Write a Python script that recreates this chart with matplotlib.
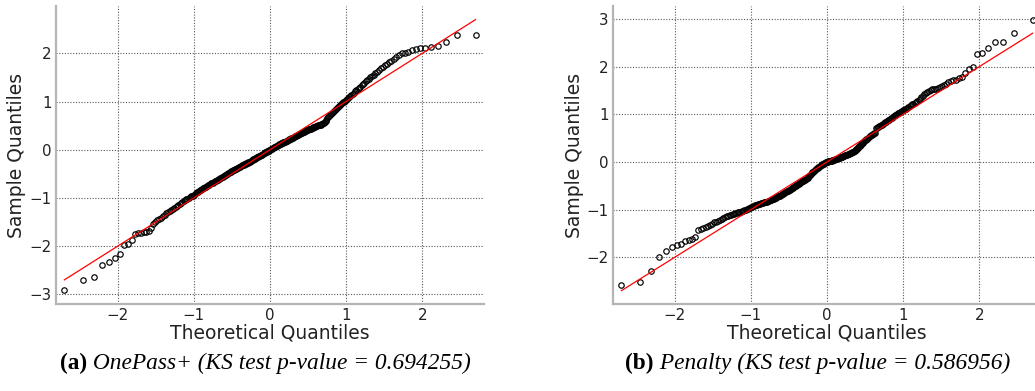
from statistics import NormalDist

import matplotlib
matplotlib.use("Agg")
import matplotlib.pyplot as plt
import numpy as np

# sorted, standardized residuals for each method
onepass_sample = [
    -2.91, -2.70, -2.65, -2.39, -2.32, -2.25, -2.16, -1.98, -1.96, -1.87,
    -1.74, -1.72, -1.72, -1.71, -1.70, -1.68, -1.62, -1.54, -1.50, -1.46,
    -1.44, -1.41, -1.38, -1.35, -1.32, -1.30, -1.28, -1.25, -1.23, -1.20,
    -1.18, -1.16, -1.14, -1.12, -1.10, -1.08, -1.07, -1.05, -1.03, -1.02,
    -1.00, -0.99, -0.97, -0.96, -0.95, -0.93, -0.91, -0.90, -0.88, -0.87,
    -0.86, -0.84, -0.83, -0.82, -0.80, -0.79, -0.78, -0.77, -0.75, -0.74,
    -0.73, -0.72, -0.70, -0.69, -0.68, -0.67, -0.66, -0.65, -0.64, -0.63,
    -0.62, -0.61, -0.60, -0.59, -0.58, -0.57, -0.56, -0.55, -0.54, -0.53,
    -0.52, -0.51, -0.50, -0.49, -0.48, -0.47, -0.46, -0.45, -0.44, -0.43,
    -0.43, -0.42, -0.41, -0.40, -0.39, -0.38, -0.37, -0.36, -0.36, -0.35,
    -0.34, -0.33, -0.32, -0.31, -0.31, -0.30, -0.29, -0.29, -0.28, -0.27,
    -0.27, -0.26, -0.25, -0.25, -0.24, -0.23, -0.22, -0.21, -0.20, -0.19,
    -0.19, -0.18, -0.17, -0.16, -0.15, -0.15, -0.14, -0.13, -0.12, -0.11,
    -0.10, -0.10, -0.09, -0.08, -0.07, -0.06, -0.05, -0.05, -0.04, -0.03,
    -0.02, -0.02, -0.01, 0.00, 0.01, 0.02, 0.02, 0.03, 0.04, 0.05,
    0.05, 0.06, 0.07, 0.08, 0.08, 0.09, 0.10, 0.11, 0.11, 0.12,
    0.13, 0.14, 0.14, 0.15, 0.16, 0.16, 0.17, 0.18, 0.19, 0.19,
    0.20, 0.21, 0.22, 0.22, 0.23, 0.24, 0.25, 0.25, 0.26, 0.27,
    0.28, 0.28, 0.29, 0.30, 0.31, 0.31, 0.32, 0.33, 0.34, 0.34,
    0.35, 0.36, 0.37, 0.37, 0.38, 0.39, 0.40, 0.40, 0.41, 0.42,
    0.43, 0.44, 0.44, 0.45, 0.46, 0.47, 0.47, 0.48, 0.49, 0.49,
    0.50, 0.51, 0.51, 0.52, 0.52, 0.53, 0.54, 0.55, 0.56, 0.58,
    0.60, 0.62, 0.65, 0.68, 0.70, 0.73, 0.75, 0.77, 0.79, 0.81,
    0.83, 0.85, 0.87, 0.89, 0.91, 0.93, 0.95, 0.97, 0.98, 1.00,
    1.01, 1.03, 1.05, 1.07, 1.09, 1.11, 1.13, 1.16, 1.18, 1.21,
    1.23, 1.26, 1.28, 1.31, 1.34, 1.37, 1.39, 1.42, 1.45, 1.47,
    1.50, 1.53, 1.56, 1.59, 1.62, 1.65, 1.69, 1.72, 1.75, 1.78,
    1.82, 1.85, 1.89, 1.92, 1.96, 2.00, 2.01, 2.03, 2.06, 2.08,
    2.10, 2.12, 2.13, 2.15, 2.23, 2.37, 2.37,
]

penalty_sample = [
    -2.58, -2.52, -2.29, -2.00, -1.86, -1.79, -1.75, -1.73, -1.65, -1.63,
    -1.61, -1.58, -1.43, -1.41, -1.39, -1.37, -1.35, -1.32, -1.30, -1.27,
    -1.25, -1.23, -1.21, -1.19, -1.17, -1.16, -1.14, -1.13, -1.12, -1.11,
    -1.10, -1.09, -1.08, -1.07, -1.06, -1.05, -1.04, -1.03, -1.02, -1.01,
    -1.00, -0.99, -0.98, -0.97, -0.96, -0.95, -0.94, -0.93, -0.92, -0.91,
    -0.91, -0.90, -0.89, -0.89, -0.88, -0.87, -0.87, -0.86, -0.85, -0.85,
    -0.84, -0.83, -0.82, -0.81, -0.80, -0.80, -0.79, -0.78, -0.77, -0.77,
    -0.76, -0.75, -0.74, -0.73, -0.72, -0.72, -0.71, -0.70, -0.69, -0.68,
    -0.67, -0.66, -0.65, -0.64, -0.63, -0.62, -0.61, -0.60, -0.59, -0.58,
    -0.57, -0.56, -0.55, -0.54, -0.53, -0.52, -0.51, -0.50, -0.49, -0.48,
    -0.47, -0.46, -0.45, -0.44, -0.43, -0.42, -0.41, -0.40, -0.39, -0.38,
    -0.37, -0.36, -0.35, -0.34, -0.33, -0.31, -0.30, -0.28, -0.27, -0.25,
    -0.24, -0.22, -0.21, -0.19, -0.18, -0.16, -0.15, -0.14, -0.13, -0.12,
    -0.11, -0.10, -0.09, -0.08, -0.07, -0.06, -0.05, -0.05, -0.04, -0.03,
    -0.02, -0.01, -0.01, 0.00, 0.00, 0.01, 0.01, 0.02, 0.02, 0.03,
    0.03, 0.04, 0.04, 0.05, 0.05, 0.06, 0.06, 0.07, 0.07, 0.08,
    0.08, 0.09, 0.09, 0.10, 0.10, 0.11, 0.11, 0.12, 0.12, 0.13,
    0.14, 0.14, 0.15, 0.15, 0.16, 0.17, 0.17, 0.18, 0.19, 0.19,
    0.20, 0.21, 0.21, 0.22, 0.24, 0.25, 0.27, 0.28, 0.30, 0.31,
    0.33, 0.34, 0.36, 0.37, 0.39, 0.40, 0.42, 0.43, 0.45, 0.46,
    0.48, 0.49, 0.51, 0.52, 0.54, 0.55, 0.56, 0.57, 0.58, 0.59,
    0.60, 0.61, 0.71, 0.72, 0.73, 0.74, 0.75, 0.76, 0.77, 0.78,
    0.79, 0.80, 0.82, 0.83, 0.84, 0.86, 0.87, 0.89, 0.90, 0.92,
    0.93, 0.95, 0.96, 0.98, 0.99, 1.00, 1.02, 1.03, 1.04, 1.05,
    1.06, 1.08, 1.09, 1.11, 1.12, 1.14, 1.15, 1.17, 1.19, 1.21,
    1.22, 1.24, 1.26, 1.28, 1.30, 1.33, 1.36, 1.39, 1.42, 1.44,
    1.46, 1.48, 1.50, 1.52, 1.53, 1.54, 1.56, 1.57, 1.59, 1.61,
    1.64, 1.67, 1.70, 1.72, 1.72, 1.76, 1.79, 1.86, 1.95, 2.00,
    2.27, 2.28, 2.38, 2.52, 2.52, 2.71, 2.97,
]

panel_tags = ["(a)", "(b)"]
panel_names = ["OnePass+", "Penalty"]
ks_pvalues = [0.694255, 0.586956]
y_ticks = [[-3, -2, -1, 0, 1, 2], [-2, -1, 0, 1, 2, 3]]
x_ticks = [-2, -1, 0, 1, 2]

CAPTION_SIZE = 16.8


def theoretical_quantiles(n):
    # plotting positions i / (n + 1), as in statsmodels' ProbPlot
    dist = NormalDist()
    return np.array([dist.inv_cdf(i / (n + 1)) for i in range(1, n + 1)])


def qq_panel(ax, sample, yticks, ylim):
    sample = np.sort(np.asarray(sample))
    theo = theoretical_quantiles(len(sample))

    ax.plot(theo, sample, "o", ms=3.9, mfc="none", mec="black", mew=0.85, zorder=3)
    # 45 degree reference line over the theoretical range
    ends = theo[[0, -1]]
    ax.plot(ends, ends, color="red", lw=0.9, zorder=4)

    ax.set_xlim(-2.81, 2.81)
    ax.set_ylim(*ylim)
    ax.set_xticks(x_ticks)
    ax.set_yticks(yticks)
    ax.grid(True, color="0.35", linestyle=(0, (1, 1.5)), linewidth=0.8)
    ax.set_axisbelow(True)
    for side in ["top", "right"]:
        ax.spines[side].set_visible(False)
    for side in ["left", "bottom"]:
        ax.spines[side].set_color("#b5b5b5")
        ax.spines[side].set_linewidth(1.6)
    ax.tick_params(length=0, labelsize=10.8, pad=3, labelcolor="#222222")
    ax.set_xlabel("Theoretical Quantiles", fontsize=13.5, color="#222222")
    ax.set_ylabel("Sample Quantiles", fontsize=13.5, color="#222222")
    ax.xaxis.set_label_coords(0.5, -0.066)
    ax.yaxis.set_label_coords(-0.069, 0.5)


fig = plt.figure(figsize=(10.35, 3.91), dpi=100)
ax_a = fig.add_axes([0.0541, 0.2225, 0.4135, 0.762])
ax_b = fig.add_axes([0.5923, 0.2225, 0.4135, 0.762])

qq_panel(ax_a, onepass_sample, y_ticks[0], (-3.2, 2.98))
qq_panel(ax_b, penalty_sample, y_ticks[1], (-2.98, 3.27))

# sub-figure captions: bold tag followed by italic description
caption_x = [60 / 1035, 625 / 1035]
caption_y = 0.043
fig.canvas.draw()
for cx, tag, name, p in zip(caption_x, panel_tags, panel_names, ks_pvalues):
    t = fig.text(cx, caption_y, tag, family="Liberation Serif", weight="bold",
                 fontsize=CAPTION_SIZE, va="bottom", ha="left")
    bb = t.get_window_extent(renderer=fig.canvas.get_renderer())
    fig.text(bb.x1 / fig.bbox.width, caption_y, f" {name} (KS test p-value = {p:.6f})",
             family="Liberation Serif", style="italic", fontsize=CAPTION_SIZE,
             va="bottom", ha="left")

fig.savefig("out.png", dpi=100)
